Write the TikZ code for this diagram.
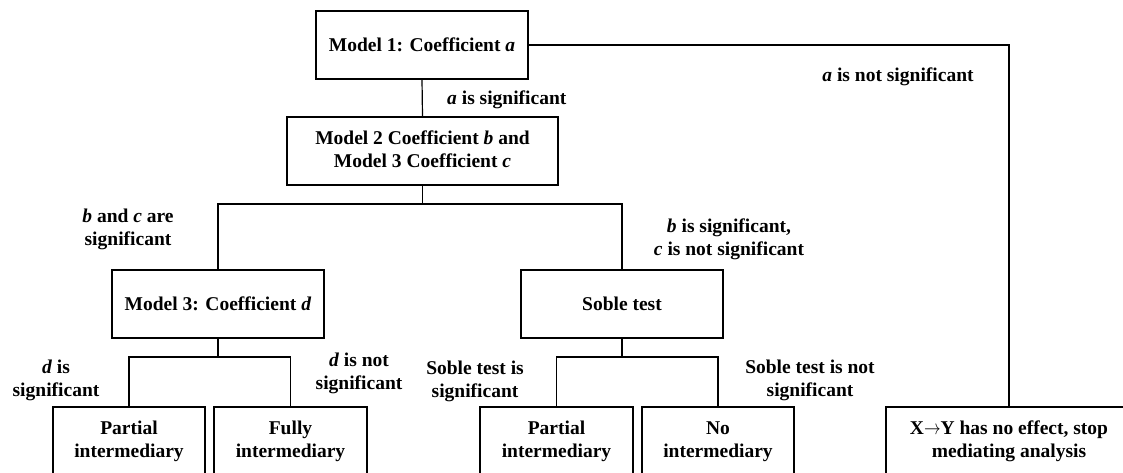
\documentclass[tikz,border=0pt]{standalone}
\usepackage{fontspec}
\setmainfont{Liberation Serif}
\usepackage{graphicx}
\begin{document}
\begin{tikzpicture}[x=1pt,y=-1pt,
  box/.style={draw=black,line width=1.2pt,minimum height=68pt,align=center,inner sep=0pt,
    font=\fontsize{19.5}{23}\selectfont\bfseries},
  lbl/.style={align=center,inner sep=0pt,font=\fontsize{19.5}{23}\selectfont\bfseries},
  conn/.style={draw=black,line width=1.2pt}]
\useasboundingbox (0,0) rectangle (1123,473);
\clip (0,0) rectangle (1123,473);
% boxes
\node[box,minimum width=212pt] (m1) at (422,45) {Model 1: Coefficient \textit{a}};
\node[box,minimum width=271pt] (m2) at (422.5,151) {\strut Model 2 Coefficient \textit{b} and\\\strut Model 3 Coefficient \textit{c}};
\node[box,minimum width=212pt] (m3) at (218,304) {Model 3: Coefficient \textit{d}};
\node[box,minimum width=202pt] (sob) at (622,304) {Soble test};
\node[box,minimum width=152pt] (p1) at (129,441) {\strut Partial\\\strut intermediary};
\node[box,minimum width=153pt] (fu) at (290.5,441) {\strut Fully\\\strut intermediary};
\node[box,minimum width=153pt] (p2) at (556.5,441) {\strut Partial\\\strut intermediary};
\node[box,minimum width=152pt] (no) at (718,441) {\strut No\\\strut intermediary};
\node[box,minimum width=246pt] (xy) at (1009,441) {\strut X\scalebox{0.8}[1]{$\rightarrow$}Y has no effect, stop\\\strut mediating analysis};
% junctions
\coordinate (j1) at (422.5,204);
\coordinate (j2) at (218,357);
\coordinate (j3) at (622,357);
% connectors
\draw[conn] (m1.south) -- (m2.north);
\draw[conn] (m1.east) -| (xy.north);
\draw[conn] (m2.south) -- (j1);
\draw[conn] (m3.north) |- (j1) -| (sob.north);
\draw[conn] (m3.south) -- (j2);
\draw[conn] (p1.north) |- (j2) -| (fu.north);
\draw[conn] (sob.south) -- (j3);
\draw[conn] (p2.north) |- (j3) -| (no.north);
% labels
\node[lbl,anchor=west] (la) at (447,100) {\textit{a} is significant};
\node[lbl] (lna) at (898,77) {\textit{a} is not significant};
\node[lbl] (lbc) at (128,229) {\strut\textit{b} and \textit{c} are\\\strut significant};
\node[lbl] (lbnc) at (729,239.5) {\strut\textit{b} is significant,\\\strut\textit{c} is not significant};
\node[lbl] (ld) at (56,380.5) {\strut\textit{d} is\\\strut significant};
\node[lbl] (lnd) at (359,373) {\strut\textit{d} is not\\\strut significant};
\node[lbl] (ls) at (475,381) {\strut Soble test is\\\strut significant};
\node[lbl] (lns) at (810,380.5) {\strut Soble test is not\\\strut significant};
\end{tikzpicture}
\end{document}
